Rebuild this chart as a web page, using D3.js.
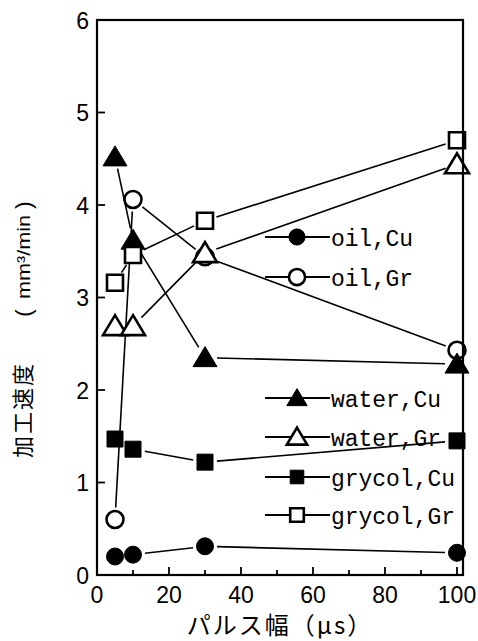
<!DOCTYPE html>
<html>
<head>
<meta charset="utf-8">
<script src="https://cdn.jsdelivr.net/npm/d3@7/dist/d3.min.js"></script>
<style>
  body { margin: 0; background: #fff; }
</style>
</head>
<body>
<div id="viz"></div>
<script>
// pulse width (µs)
var pulse = [5, 10, 30, 100];
var oilCu    = [0.20, 0.22, 0.31, 0.24];
var oilGr    = [0.60, 4.06, 3.44, 2.43];
var waterCu  = [4.52, 3.62, 2.35, 2.28];
var waterGr  = [2.69, 2.69, 3.48, 4.44];
var grycolCu = [1.47, 1.36, 1.22, 1.45];
var grycolGr = [3.16, 3.46, 3.83, 4.70];

var seriesNames = ["oil,Cu", "oil,Gr", "water,Cu", "water,Gr", "grycol,Cu", "grycol,Gr"];
var seriesVals  = [oilCu, oilGr, waterCu, waterGr, grycolCu, grycolGr];
var seriesSym   = ["circle", "circle", "triangle", "triangle", "square", "square"];
var seriesFill  = [true, false, true, false, true, false];

var xTicks = [0, 20, 40, 60, 80, 100];
var yTicks = [0, 1, 2, 3, 4, 5, 6];

var W = 478, H = 641;
var x = d3.scaleLinear().domain([0, 100]).range([97, 457]);
var y = d3.scaleLinear().domain([0, 6]).range([575, 20]);

var svg = d3.select("#viz").append("svg")
    .attr("width", W).attr("height", H);

// marker paths
function symPath(kind, s) {
    s = s || 1;
    if (kind == "circle") return d3.arc()({innerRadius: 0, outerRadius: 8.5 * s, startAngle: 0, endAngle: 2 * Math.PI});
    if (kind == "square") return "M" + (-8 * s) + "," + (-8 * s) + "h" + (16 * s) + "v" + (16 * s) + "h" + (-16 * s) + "Z";
    return "M0," + (-11 * s) + "L" + (12 * s) + "," + (9 * s) + "L" + (-12 * s) + "," + (9 * s) + "Z";
}
function drawSym(g, kind, filled, cx, cy, s) {
    g.append("path")
        .attr("d", symPath(kind, s))
        .attr("transform", "translate(" + cx + "," + cy + ")")
        .attr("fill", filled ? "#000" : "#fff")
        .attr("stroke", "#000")
        .attr("stroke-width", filled ? 1 : 2.6)
        .attr("stroke-linejoin", "miter");
}

// connecting lines, with small gap near each marker
var gap = 12;
seriesVals.forEach(function (vals) {
    for (var i = 0; i < vals.length - 1; i++) {
        var x1 = x(pulse[i]), y1 = y(vals[i]), x2 = x(pulse[i + 1]), y2 = y(vals[i + 1]);
        var dx = x2 - x1, dy = y2 - y1, L = Math.sqrt(dx * dx + dy * dy);
        if (L < 2 * gap) continue;
        svg.append("line")
            .attr("x1", x1 + dx / L * gap).attr("y1", y1 + dy / L * gap)
            .attr("x2", x2 - dx / L * gap).attr("y2", y2 - dy / L * gap)
            .attr("stroke", "#000").attr("stroke-width", 1.6);
    }
});

// markers
seriesVals.forEach(function (vals, k) {
    vals.forEach(function (v, i) {
        drawSym(svg, seriesSym[k], seriesFill[k], x(pulse[i]), y(v));
    });
});

// frame (extends a little past x=100)
svg.append("rect")
    .attr("x", 97).attr("y", 20).attr("width", 366).attr("height", 555)
    .attr("fill", "none").attr("stroke", "#000").attr("stroke-width", 2.2);

// x ticks (inward), minor every 10
d3.range(10, 101, 10).forEach(function (t) {
    var major = t % 20 == 0;
    svg.append("line")
        .attr("x1", x(t)).attr("x2", x(t))
        .attr("y1", 575).attr("y2", 575 - (major ? 8 : 5))
        .attr("stroke", "#000").attr("stroke-width", 1.8);
});
svg.selectAll(".xl").data(xTicks).enter().append("text")
    .attr("x", function (d) { return x(d); })
    .attr("y", 603)
    .attr("text-anchor", "middle")
    .attr("font-family", "Liberation Sans, Arial, sans-serif")
    .attr("font-size", 23)
    .text(function (d) { return d; });

// y ticks (inward)
yTicks.slice(1, -1).forEach(function (t) {
    svg.append("line")
        .attr("x1", 97).attr("x2", 105)
        .attr("y1", y(t)).attr("y2", y(t))
        .attr("stroke", "#000").attr("stroke-width", 1.8);
});
svg.selectAll(".yl").data(yTicks).enter().append("text")
    .attr("x", 89)
    .attr("y", function (d) { return y(d) + 8.5; })
    .attr("text-anchor", "end")
    .attr("font-family", "Liberation Sans, Arial, sans-serif")
    .attr("font-size", 23)
    .text(function (d) { return d; });

// axis titles
svg.append("text")
    .attr("x", 280).attr("y", 634)
    .attr("text-anchor", "middle")
    .attr("font-family", "Noto Sans CJK JP, sans-serif")
    .attr("font-size", 24)
    .attr("letter-spacing", 2)
    .text("パルス幅（μs）");

var yl = svg.append("g").attr("transform", "translate(31,0) rotate(-90)");
yl.append("text")
    .attr("x", -458).attr("y", 0)
    .attr("font-family", "Noto Sans CJK JP, sans-serif")
    .attr("font-size", 22)
    .attr("letter-spacing", 2)
    .text("加工速度");
yl.append("text")
    .attr("x", -313).attr("y", 0)
    .attr("text-anchor", "middle")
    .attr("font-family", "Liberation Sans, sans-serif")
    .attr("font-size", 22)
    .text("(");
yl.append("text")
    .attr("x", -299).attr("y", -1)
    .attr("font-family", "Liberation Sans, sans-serif")
    .attr("font-size", 18)
    .attr("textLength", 84)
    .attr("lengthAdjust", "spacingAndGlyphs")
    .text("mm³/min");
yl.append("text")
    .attr("x", -205).attr("y", 0)
    .attr("text-anchor", "middle")
    .attr("font-family", "Liberation Sans, sans-serif")
    .attr("font-size", 22)
    .text(")");

// legend
var legY = [237, 277, 398, 437, 477, 515];
seriesNames.forEach(function (name, k) {
    var g = svg.append("g");
    g.append("line")
        .attr("x1", 265).attr("x2", 330)
        .attr("y1", legY[k]).attr("y2", legY[k])
        .attr("stroke", "#000").attr("stroke-width", 2.2);
    drawSym(g, seriesSym[k], seriesFill[k], 297, legY[k], seriesSym[k] == "circle" ? 0.95 : 0.85);
    g.append("text")
        .attr("x", 331).attr("y", legY[k] + 9)
        .attr("font-family", "Liberation Mono, monospace")
        .attr("font-size", 23)
        .attr("textLength", name.length * 14 - 2)
        .attr("lengthAdjust", "spacing")
        .text(name);
});
</script>
</body>
</html>
